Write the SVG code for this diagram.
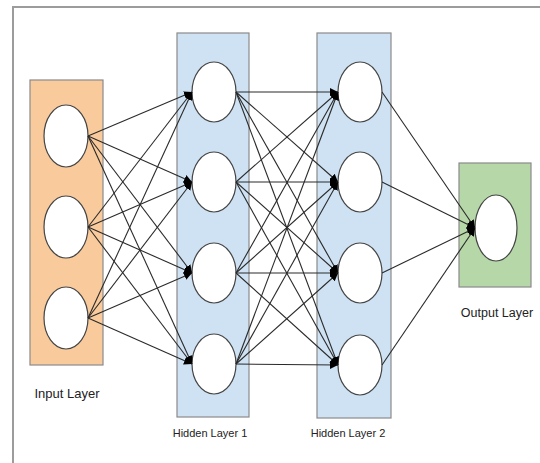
<svg xmlns="http://www.w3.org/2000/svg" width="540" height="463" viewBox="0 0 540 463">
  <style>
    .frame { fill: none; stroke: #9c9c9c; stroke-width: 2; }
    .layer { stroke: #8a8a8a; stroke-width: 1.2; }
    .input { fill: #f9cb9c; }
    .hidden { fill: #cfe2f3; }
    .output { fill: #b6d7a8; }
    .neuron { fill: #ffffff; stroke: #444444; stroke-width: 1.2; }
    .edge { stroke: #2a2a2a; stroke-width: 1.1; fill: none; marker-end: url(#arrow); }
    .label { font-family: "Liberation Sans", Arial, sans-serif; fill: #222222; }
  </style>
  <defs>
    <marker id="arrow" viewBox="0 0 10 10" refX="10" refY="5" markerWidth="8" markerHeight="8" markerUnits="userSpaceOnUse" orient="auto">
      <path d="M0,0 L10,5 L0,10 z" fill="#000000"/>
    </marker>
  </defs>

  <rect width="540" height="463" fill="#ffffff"/>
  <!-- page frame -->
  <path class="frame" d="M13,463 V7 H540"/>

  <!-- input layer -->
  <g id="input-layer">
    <rect class="layer input" x="30" y="80" width="73" height="285"/>
    <ellipse class="neuron" cx="66" cy="136" rx="22" ry="31"/>
    <ellipse class="neuron" cx="66" cy="227" rx="22" ry="31"/>
    <ellipse class="neuron" cx="66" cy="318" rx="22" ry="31"/>
    <text class="label" x="67" y="398" font-size="13" text-anchor="middle">Input Layer</text>
  </g>

  <!-- first hidden layer -->
  <g id="hidden-layer-1">
    <rect class="layer hidden" x="177" y="33" width="72" height="384"/>
    <ellipse class="neuron" cx="214" cy="92" rx="22" ry="30"/>
    <ellipse class="neuron" cx="214" cy="182" rx="22" ry="30"/>
    <ellipse class="neuron" cx="214" cy="273" rx="22" ry="30"/>
    <ellipse class="neuron" cx="214" cy="364" rx="22" ry="30"/>
    <text class="label" x="210" y="437" font-size="11" text-anchor="middle">Hidden Layer 1</text>
  </g>

  <!-- second hidden layer -->
  <g id="hidden-layer-2">
    <rect class="layer hidden" x="317" y="33" width="74" height="385"/>
    <ellipse class="neuron" cx="360" cy="92" rx="22" ry="30"/>
    <ellipse class="neuron" cx="360" cy="182" rx="22" ry="30"/>
    <ellipse class="neuron" cx="360" cy="273" rx="22" ry="30"/>
    <ellipse class="neuron" cx="360" cy="365" rx="22" ry="30"/>
    <text class="label" x="348" y="437" font-size="11" text-anchor="middle">Hidden Layer 2</text>
  </g>

  <!-- output layer -->
  <g id="output-layer">
    <rect class="layer output" x="459" y="163" width="72" height="124"/>
    <ellipse class="neuron" cx="496" cy="228" rx="21" ry="33"/>
    <text class="label" x="497" y="317" font-size="12.5" text-anchor="middle">Output Layer</text>
  </g>

  <!-- weighted connections between layers -->
  <g id="connectors">
    <!-- input -> hidden 1 -->
    <line class="edge" x1="88" y1="136" x2="192" y2="92"/>
    <line class="edge" x1="88" y1="136" x2="192" y2="182"/>
    <line class="edge" x1="88" y1="136" x2="192" y2="273"/>
    <line class="edge" x1="88" y1="136" x2="192" y2="364"/>
    <line class="edge" x1="88" y1="227" x2="192" y2="92"/>
    <line class="edge" x1="88" y1="227" x2="192" y2="182"/>
    <line class="edge" x1="88" y1="227" x2="192" y2="273"/>
    <line class="edge" x1="88" y1="227" x2="192" y2="364"/>
    <line class="edge" x1="88" y1="318" x2="192" y2="92"/>
    <line class="edge" x1="88" y1="318" x2="192" y2="182"/>
    <line class="edge" x1="88" y1="318" x2="192" y2="273"/>
    <line class="edge" x1="88" y1="318" x2="192" y2="364"/>
    <!-- hidden 1 -> hidden 2 -->
    <line class="edge" x1="236" y1="92" x2="338" y2="92"/>
    <line class="edge" x1="236" y1="92" x2="338" y2="182"/>
    <line class="edge" x1="236" y1="92" x2="338" y2="273"/>
    <line class="edge" x1="236" y1="92" x2="338" y2="365"/>
    <line class="edge" x1="236" y1="182" x2="338" y2="92"/>
    <line class="edge" x1="236" y1="182" x2="338" y2="182"/>
    <line class="edge" x1="236" y1="182" x2="338" y2="273"/>
    <line class="edge" x1="236" y1="182" x2="338" y2="365"/>
    <line class="edge" x1="236" y1="273" x2="338" y2="92"/>
    <line class="edge" x1="236" y1="273" x2="338" y2="182"/>
    <line class="edge" x1="236" y1="273" x2="338" y2="273"/>
    <line class="edge" x1="236" y1="273" x2="338" y2="365"/>
    <line class="edge" x1="236" y1="364" x2="338" y2="92"/>
    <line class="edge" x1="236" y1="364" x2="338" y2="182"/>
    <line class="edge" x1="236" y1="364" x2="338" y2="273"/>
    <line class="edge" x1="236" y1="364" x2="338" y2="365"/>
    <!-- hidden 2 -> output -->
    <line class="edge" x1="382" y1="92" x2="475" y2="228"/>
    <line class="edge" x1="382" y1="182" x2="475" y2="228"/>
    <line class="edge" x1="382" y1="273" x2="475" y2="228"/>
    <line class="edge" x1="382" y1="365" x2="475" y2="228"/>
  </g>
</svg>
